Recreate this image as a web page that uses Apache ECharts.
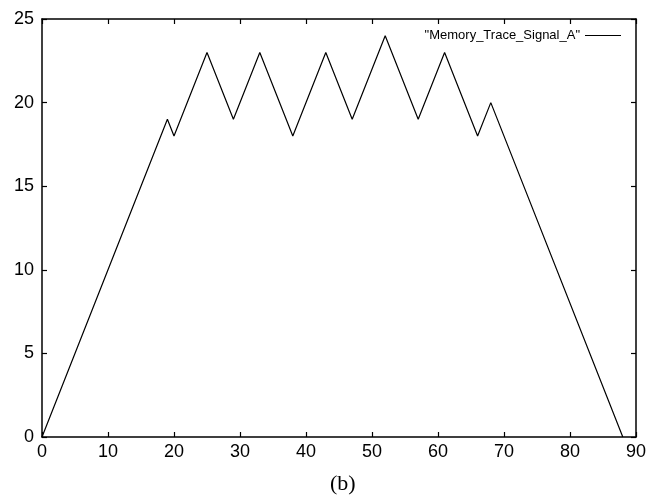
<!DOCTYPE html>
<html lang="en">
<head>
    <meta charset="utf-8">
    <title>Memory Trace Signal A</title>
    <script src="https://cdn.jsdelivr.net/npm/echarts@6/dist/echarts.min.js"></script>
    <style>
        html, body { margin: 0; padding: 0; background: #fff; }
        #chart { width: 662px; height: 503px; }
    </style>
</head>
<body>
<div id="chart"></div>
<script type="application/javascript">
    // values
    var xValues = [0, 19, 20, 25, 29, 33, 38, 43, 47, 52, 57, 61, 66, 68, 88];
    var yValues = [0, 19, 18, 23, 19, 23, 18, 23, 19, 24, 19, 23, 18, 20, 0];
    var seriesName = 'Memory_Trace_Signal_A';
    var caption = '(b)';

    var points = [];
    for (var i = 0; i < xValues.length; i++) {
        points.push([xValues[i], yValues[i]]);
    }

    var chart = echarts.init(document.getElementById('chart'));

    // gnuplot-style frame: ticks inside, mirrored on top and right
    function frameAxis(pos, min, max, interval, showLabels, margin) {
        return {
            type: 'value',
            min: min, max: max, interval: interval,
            position: pos,
            axisLine: { show: true, onZero: false, lineStyle: { color: '#000', width: 1.5 } },
            axisTick: { show: true, inside: true, length: 5, lineStyle: { color: '#000', width: 1.2 } },
            axisLabel: {
                show: showLabels,
                margin: margin,
                color: '#000',
                fontSize: 18,
                fontFamily: 'Liberation Sans, Arial, sans-serif'
            },
            splitLine: { show: false }
        };
    }

    chart.setOption({
        animation: false,
        backgroundColor: '#fff',
        grid: { left: 42, right: 26, top: 19, bottom: 66 },
        legend: {
            data: [seriesName],
            right: 36,
            top: 24,
            align: 'right',
            icon: 'rect',
            itemWidth: 36,
            itemHeight: 1.2,
            formatter: function (name) { return '"' + name + '"'; },
            textStyle: { color: '#000', fontSize: 13, fontFamily: 'Liberation Sans, Arial, sans-serif' }
        },
        xAxis: [
            frameAxis('bottom', 0, 90, 10, true, 6),
            frameAxis('top', 0, 90, 10, false, 6)
        ],
        yAxis: [
            frameAxis('left', 0, 25, 5, true, 8),
            frameAxis('right', 0, 25, 5, false, 8)
        ],
        graphic: [{
            type: 'text',
            left: 330,
            top: 473,
            style: {
                text: caption,
                fill: '#000',
                fontSize: 22,
                fontFamily: 'Liberation Serif, Times New Roman, serif'
            }
        }],
        series: [{
            name: seriesName,
            type: 'line',
            data: points,
            symbol: 'none',
            lineStyle: { color: '#000', width: 1.2 },
            itemStyle: { color: '#000' }
        }]
    });
</script>
</body>
</html>
